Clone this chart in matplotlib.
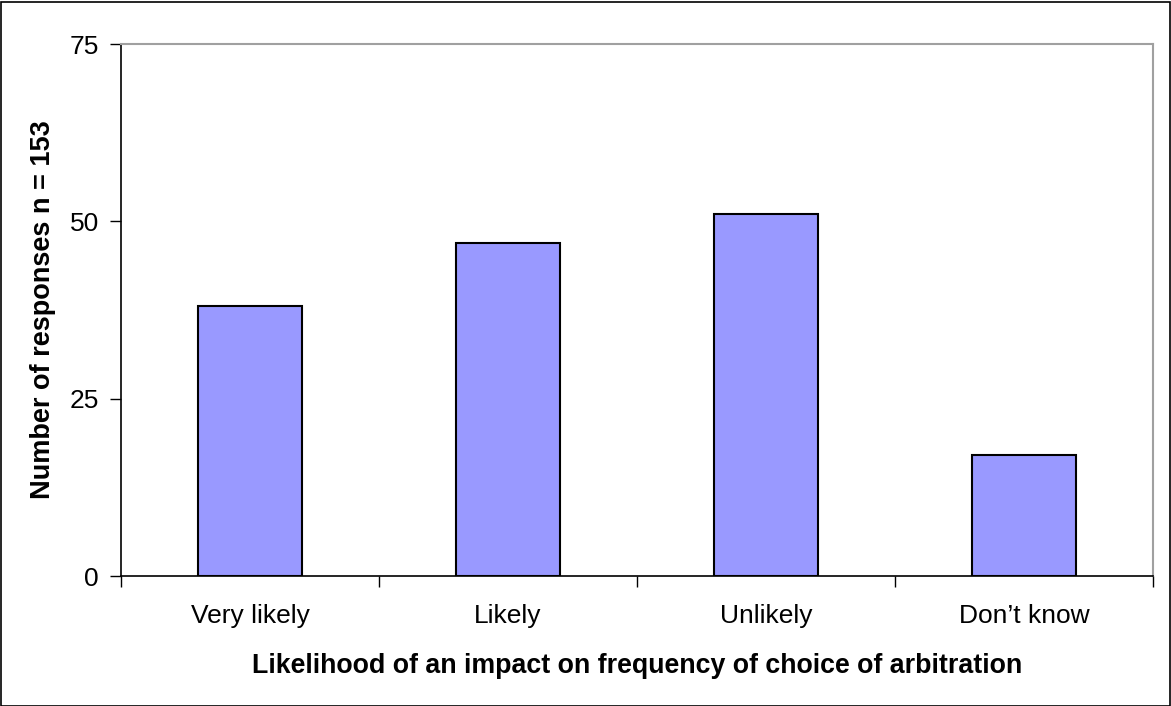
import matplotlib
matplotlib.use("Agg")
import matplotlib.pyplot as plt
from matplotlib.patches import Rectangle

categories = ["Very likely", "Likely", "Unlikely", "Don\u2019t know"]
responses = [38, 47, 51, 17]
y_ticks = [0, 25, 50, 75]

plt.rcParams["font.family"] = ["Liberation Sans", "DejaVu Sans"]

W, H = 1171, 706
fig = plt.figure(figsize=(W / 100, H / 100), dpi=100)
fig.patches.append(Rectangle((0.5 / W, 0.5 / H), 1 - 2 / W, 1 - 2 / H,
                             transform=fig.transFigure, fill=False,
                             edgecolor="black", linewidth=1.2))

left, right, top, bottom = 121, 1153, 44, 576
ax = fig.add_axes([left / W, 1 - bottom / H, (right - left) / W, (bottom - top) / H])

x = list(range(len(categories)))
ax.bar(x, responses, width=0.40, color="#9999FF", edgecolor="black", linewidth=1.5)

ax.set_xlim(-0.5, len(categories) - 0.5)
ax.set_ylim(0, 75)
ax.set_yticks(y_ticks)
ax.set_yticklabels([str(v) for v in y_ticks], fontsize=19)

ax.set_xticks([i - 0.5 for i in range(len(categories) + 1)])
ax.set_xticklabels([])
ax.set_xticks(x, minor=True)
ax.set_xticklabels(categories, minor=True, fontsize=19)
ax.tick_params(axis="x", which="minor", length=0, pad=20)
ax.tick_params(axis="x", which="major", length=8, width=1, direction="out")
ax.tick_params(axis="y", length=8, width=1, direction="out", pad=8)

for side in ("left", "bottom"):
    ax.spines[side].set_color("black")
    ax.spines[side].set_linewidth(1.2)
for side in ("top", "right"):
    ax.spines[side].set_color("#A0A0A0")
    ax.spines[side].set_linewidth(1.5)

ax.set_xlabel("Likelihood of an impact on frequency of choice of arbitration",
              fontsize=19.3, fontweight="bold", labelpad=18)
ax.set_ylabel("Number of responses n = 153", fontsize=19.5, fontweight="bold", labelpad=10)

fig.savefig("out.png", dpi=100, facecolor="white")
